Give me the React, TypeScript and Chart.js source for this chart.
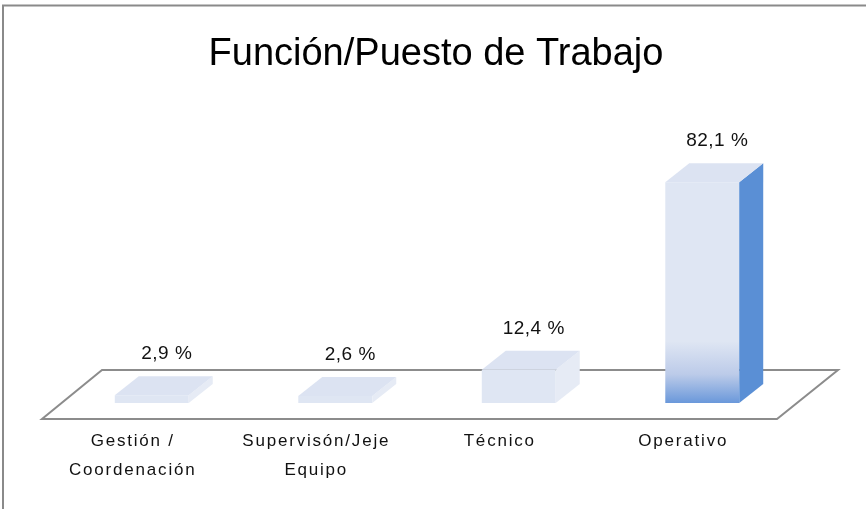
import React, { useEffect, useRef } from 'react';
import { Chart, registerables } from 'chart.js';

Chart.register(...registerables);

// ---- data ----
const title = 'Función/Puesto de Trabajo';
const categories: (string | string[])[] = [
  ['Gestión /', 'Coordenación'],
  ['Supervisón/Jeje', 'Equipo'],
  'Técnico',
  'Operativo',
];
const values = [2.9, 2.6, 12.4, 82.1];
const yMin = 0;
const yMax = 90;

// ---- styles ----
const FRONT = '#DFE6F3';
const TOP = '#DCE3F2';
const sideColors = ['#E6EBF5', '#E6EBF5', '#E6EBF5', '#5A8FD5'];
const gradientBars = [false, false, false, true];
const FONT = '"Liberation Sans", Arial, sans-serif';
const DEPTH = { dx: 24, dy: -19 };

const fmt = (v: number) => v.toFixed(1).replace('.', ',') + ' %';

const threeD = {
  id: 'threeD',
  beforeDraw(chart: any) {
    const ctx = chart.ctx;
    ctx.save();
    ctx.fillStyle = '#ffffff';
    ctx.fillRect(0, 0, chart.width, chart.height);
    ctx.strokeStyle = '#8a8a8a';
    ctx.lineWidth = 2;
    ctx.beginPath();
    ctx.moveTo(3, chart.height);
    ctx.lineTo(3, 5.5);
    ctx.lineTo(chart.width, 5.5);
    ctx.stroke();
    ctx.fillStyle = '#000000';
    ctx.font = `38px ${FONT}`;
    ctx.textAlign = 'center';
    ctx.textBaseline = 'middle';
    ctx.fillText(title, 436, 55);
    ctx.restore();
  },
  beforeDatasetsDraw(chart: any) {
    const ctx = chart.ctx;
    const xs = chart.scales.x;
    const ys = chart.scales.y;
    const L = xs.left;
    const R = xs.right;
    const B = ys.getPixelForValue(0);
    ctx.save();
    ctx.strokeStyle = '#8c8c8c';
    ctx.lineWidth = 2;
    ctx.beginPath();
    ctx.moveTo(L - 18, B + 16);
    ctx.lineTo(R - 17, B + 16);
    ctx.lineTo(R + 44, B - 33);
    ctx.lineTo(L + 42, B - 33);
    ctx.closePath();
    ctx.stroke();
    ctx.restore();
  },
  afterDatasetsDraw(chart: any) {
    const ctx = chart.ctx;
    const meta = chart.getDatasetMeta(0);
    ctx.save();
    meta.data.forEach((el: any, i: number) => {
      const p = el.getProps(['x', 'y', 'base', 'width'], true);
      const left = p.x - p.width / 2;
      const right = p.x + p.width / 2;
      const top = Math.min(p.y, p.base);
      const base = Math.max(p.y, p.base);
      const { dx, dy } = DEPTH;
      // side face
      ctx.fillStyle = sideColors[i];
      ctx.beginPath();
      ctx.moveTo(right, top);
      ctx.lineTo(right + dx, top + dy);
      ctx.lineTo(right + dx, base + dy);
      ctx.lineTo(right, base);
      ctx.closePath();
      ctx.fill();
      // top face
      ctx.fillStyle = TOP;
      ctx.beginPath();
      ctx.moveTo(left, top);
      ctx.lineTo(left + dx, top + dy);
      ctx.lineTo(right + dx, top + dy);
      ctx.lineTo(right, top);
      ctx.closePath();
      ctx.fill();
      // label
      ctx.fillStyle = '#111111';
      ctx.font = `19px ${FONT}`;
      (ctx as any).letterSpacing = '0.5px';
      ctx.textAlign = 'center';
      ctx.textBaseline = 'middle';
      ctx.fillText(fmt(values[i]), p.x + 15, top - 41);
    });
    ctx.restore();
    (ctx as any).letterSpacing = '1.8px';
  },
  afterDraw(chart: any) {
    (chart.ctx as any).letterSpacing = '0px';
  },
};

export default function App() {
  const ref = useRef<HTMLCanvasElement | null>(null);
  useEffect(() => {
    if (!ref.current) return;
    const chart = new Chart(ref.current, {
      type: 'bar',
      data: {
        labels: categories as any,
        datasets: [
          {
            data: values,
            backgroundColor: (c: any) => {
              const i = c.dataIndex;
              if (i === undefined || !gradientBars[i]) return FRONT;
              const ch = c.chart;
              const ys = ch.scales?.y;
              if (!ys || !ch.chartArea) return FRONT;
              const top = ys.getPixelForValue(values[i]);
              const bot = ys.getPixelForValue(0);
              const g = ch.ctx.createLinearGradient(0, top, 0, bot);
              g.addColorStop(0, FRONT);
              g.addColorStop(0.72, FRONT);
              g.addColorStop(0.87, '#BCCBE9');
              g.addColorStop(1, '#6A98DA');
              return g;
            },
            borderWidth: 0,
            categoryPercentage: 1,
            barPercentage: 0.403,
          },
        ],
      },
      options: {
        responsive: false,
        animation: false,
        layout: { padding: { left: 60, right: 72, top: 161, bottom: 0 } },
        plugins: {
          legend: { display: false },
          title: { display: false },
          tooltip: { enabled: false },
        },
        scales: {
          x: {
            grid: { display: false, drawTicks: false },
            border: { display: false },
            ticks: {
              z: 1,
              color: '#111111',
              font: { family: FONT, size: 17, lineHeight: 1.7 },
              padding: 24,
              labelOffset: -19,
              maxRotation: 0,
              autoSkip: false,
            },
            afterFit: (s: any) => {
              s.height = 106;
            },
          },
          y: {
            display: false,
            min: yMin,
            max: yMax,
          },
        },
      },
      plugins: [threeD],
    });
    return () => chart.destroy();
  }, []);
  return (
    <div style={{ position: 'absolute', left: 0, top: 0, width: 866, height: 509 }}>
      <canvas ref={ref} width={866} height={509} style={{ display: 'block' }} />
    </div>
  );
}
